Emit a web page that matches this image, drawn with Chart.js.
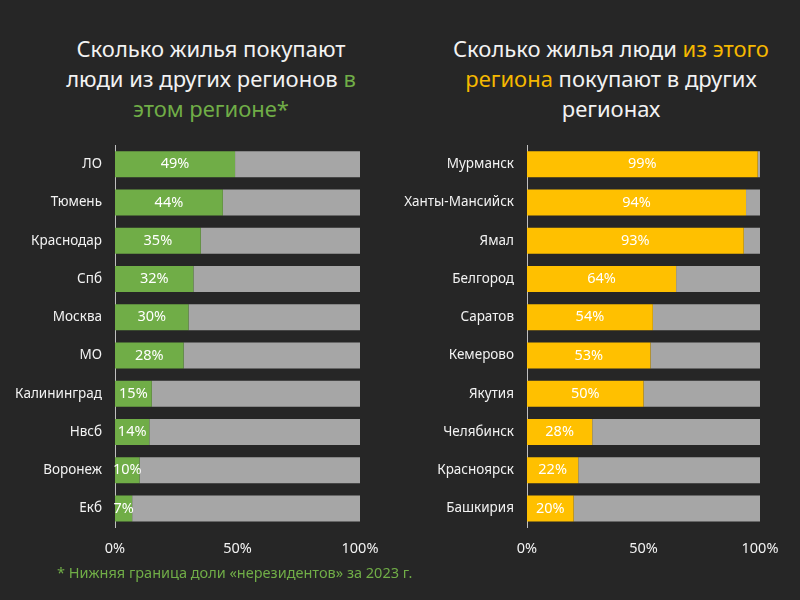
<!DOCTYPE html>
<html><head><meta charset="utf-8">
<script src="https://cdn.jsdelivr.net/npm/chart.js@4"></script>
<style>
html,body{margin:0;padding:0;background:#262626;}
#wrap{position:relative;width:800px;height:600px;background:#262626;overflow:hidden;font-family:"Noto Sans",sans-serif;}
.title{position:absolute;top:33px;width:400px;text-align:center;color:#f2f2f2;font-size:22px;line-height:30px;}
.g{color:#70ad47;} .y{color:#f5b800;}
.cv{position:absolute;top:124px;width:400px;height:447px;}
#foot{position:absolute;left:57px;top:562px;color:#70ad47;font-size:14.5px;}
</style></head><body>
<div id="wrap">
<div class="title" style="left:11px;width:400px;">Сколько жилья покупают<br>люди из других регионов <span class="g">в</span><br><span class="g">этом регионе*</span></div>
<div class="title" style="left:411px;width:400px;">Сколько жилья люди <span class="y">из этого</span><br><span class="y">региона</span> покупают в других<br>регионах</div>
<div class="cv" style="left:0px;"><canvas id="c1" width="400" height="447"></canvas></div>
<div class="cv" style="left:400px;"><canvas id="c2" width="400" height="447"></canvas></div>
<div id="foot">* Нижняя граница доли «нерезидентов» за 2023 г.</div>
</div>
<script>
const leftCategories = ["ЛО","Тюмень","Краснодар","Спб","Москва","МО","Калининград","Нвсб","Воронеж","Екб"];
const leftValues = [49,44,35,32,30,28,15,14,10,7];
const rightCategories = ["Мурманск","Ханты-Мансийск","Ямал","Белгород","Саратов","Кемерово","Якутия","Челябинск","Красноярск","Башкирия"];
const rightValues = [99,94,93,64,54,53,50,28,22,20];
const xTicks = ["0%","50%","100%"];

const labelPlugin = {
  id:'barLabels',
  afterDatasetsDraw(chart){
    const ctx = chart.ctx;
    const meta = chart.getDatasetMeta(0);
    ctx.save();
    ctx.fillStyle = '#ffffff';
    ctx.font = '14.5px "Noto Sans", sans-serif';
    ctx.textAlign = 'center';
    ctx.textBaseline = 'middle';
    meta.data.forEach((bar,i)=>{
      const v = chart.data.datasets[0].data[i];
      const x = (bar.x + bar.base)/2;
      ctx.fillText(v + '%', x, bar.y);
    });
    ctx.restore();
  }
};

function makeChart(id, cats, vals, color, yWidth){
  return new Chart(document.getElementById(id), {
    type:'bar',
    data:{
      labels:cats,
      datasets:[
        {data:vals, backgroundColor:color, barPercentage:0.68, categoryPercentage:1},
        {data:vals.map(v=>100-v), backgroundColor:'#a6a6a6', barPercentage:0.68, categoryPercentage:1}
      ]
    },
    options:{
      indexAxis:'y', responsive:false, animation:false,
      layout:{padding:{left:0,right:40,top:10,bottom:0}},
      plugins:{legend:{display:false},tooltip:{enabled:false}},
      scales:{
        x:{stacked:true,min:0,max:100,
          grid:{display:false,drawTicks:false},
          border:{display:false},
          afterBuildTicks(s){ s.ticks=[{value:0},{value:50},{value:100}]; },
          ticks:{color:'#f2f2f2',font:{size:14.5,family:'"Noto Sans", sans-serif'},padding:13,
            callback:(v,i)=>xTicks[i]}
        },
        y:{stacked:true,
          grid:{display:false,drawTicks:false},
          border:{display:true,color:'#bfbfbf',width:1},
          afterFit(s){ s.width = yWidth; },
          ticks:{color:'#f2f2f2',font:{size:13.5,family:'"Noto Sans", sans-serif'},padding:13}
        }
      }
    },
    plugins:[labelPlugin]
  });
}
makeChart('c1', leftCategories, leftValues, '#70ad47', 115);
makeChart('c2', rightCategories, rightValues, '#ffc000', 127);
</script>
</body></html>
